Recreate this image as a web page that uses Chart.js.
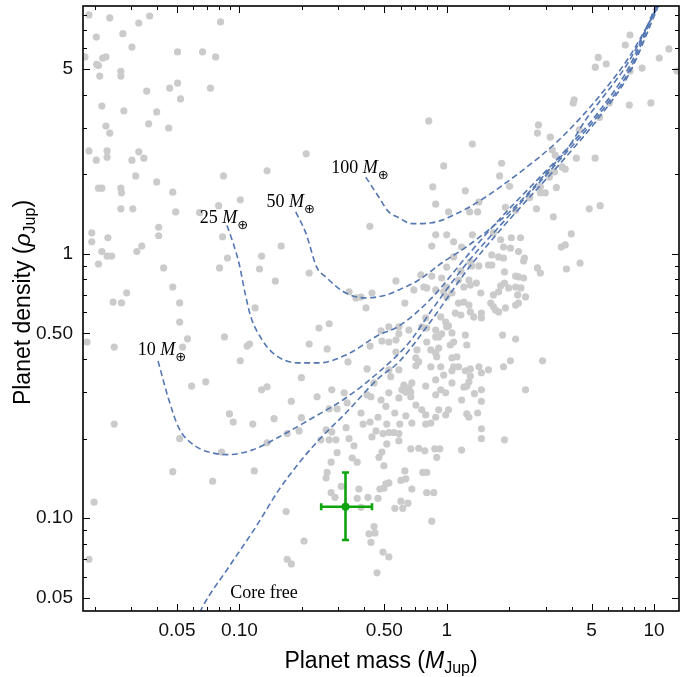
<!DOCTYPE html>
<html>
<head>
<meta charset="utf-8">
<script src="https://cdn.jsdelivr.net/npm/chart.js@4.4.1/dist/chart.umd.min.js"></script>
<style>
  html, body { margin: 0; padding: 0; background: #fff; }
</style>
</head>
<body>
<canvas id="chart" width="683" height="677"></canvas>
<script>
// known planets, [mass (M_Jup), density (rho_Jup)]
const planetsLowMass = [
  [0.0188,8.0],[0.0237,7.8],[0.0369,7.93],[0.0327,7.46],[0.0811,7.53],[0.0204,6.6],[0.0274,6.8],[0.0303,6.05],
  [0.018,5.55],[0.0219,5.5],[0.0227,5.55],[0.0205,5.2],[0.0209,5.15],[0.0503,5.8],[0.0664,5.8],[0.0768,5.55],
  [0.0268,4.9],[0.0268,4.7],[0.0212,4.7],[0.0357,4.12],[0.0461,4.23],[0.0503,4.42],[0.0725,4.23],[0.052,3.85],
  [0.0217,3.62],[0.0277,3.47],[0.0399,3.44],[0.0227,3.04],[0.0237,2.86],[0.0365,3.1],[0.0456,2.99],[0.0188,2.45],
  [0.0204,2.26],[0.023,2.45],[0.023,2.32],[0.0303,2.26],[0.0327,2.43],[0.0346,2.3],[0.0316,1.97],[0.0399,1.87],
  [0.0838,1.97],[0.136,2.06],[0.21,2.39],[0.0209,1.77],[0.0217,1.77],[0.0268,1.77],[0.027,1.7],[0.0477,1.71],
  [0.101,1.6],[0.0794,1.52],[0.0268,1.48],[0.0306,1.48],[0.0493,1.44],[0.0643,1.43],[0.0408,1.26],[0.0408,1.17],
  [0.0194,1.2],[0.0194,1.11],[0.0232,1.15],[0.0829,1.16],[0.159,1.07],[0.0217,1.02],[0.023,0.98],[0.0242,0.98],
  [0.032,1.02],[0.0338,1.07],[0.0209,0.915],[0.0876,0.964],[0.128,0.98],[0.0431,0.884],[0.0802,0.884],[0.125,0.876],
  [0.217,0.846],[0.149,0.789],[0.0477,0.749],[0.0286,0.712],[0.426,1.27],[0.436,0.711],[0.338,0.718]
];
const planetsLowDensity = [
  [0.0246,0.657],[0.027,0.652],[0.0515,0.652],[0.0515,0.552],[0.0562,0.477],[0.0184,0.464],[0.0249,0.444],[0.0532,0.444],
  [0.0847,0.485],[0.109,0.448],[0.112,0.456],[0.101,0.394],[0.119,0.624],[0.217,0.456],[0.242,0.524],[0.271,0.544],
  [0.265,0.437],[0.334,0.39],[0.0688,0.328],[0.0588,0.316],[0.128,0.306],[0.136,0.314],[0.199,0.34],[0.237,0.288],
  [0.279,0.306],[0.178,0.277],[0.0895,0.248],[0.0934,0.231],[0.116,0.227],[0.147,0.238],[0.199,0.24],[0.194,0.214],
  [0.17,0.209],[0.0249,0.227],[0.0515,0.2],[0.082,0.178],[0.136,0.193],[0.247,0.198],[0.271,0.198],[0.292,0.198],
  [0.262,0.216],[0.296,0.177],[0.327,0.22],[0.338,0.2],[0.357,0.188],[0.35,0.169],[0.37,0.163],[0.436,0.203],
  [0.0477,0.15],[0.0743,0.138],[0.118,0.151],[0.265,0.149],[0.262,0.142],[0.277,0.125],[0.289,0.12],[0.377,0.129],
  [0.417,0.12],[0.0199,0.115],[0.386,0.11],[0.168,0.106],[0.446,0.093],[0.422,0.0873],[0.431,0.081],[0.205,0.082],
  [0.17,0.07],[0.178,0.0672],[0.0188,0.07],[0.461,0.0622],
  [0.279,0.212],[0.395,0.227],[0.427,0.231],[0.514,0.227],[0.594,0.227],[0.679,0.229],[0.792,0.227],[0.838,0.229],
  [0.456,0.214],[0.493,0.209],[0.526,0.211],[0.556,0.211],[0.588,0.209],[0.514,0.191],[0.588,0.196],[0.671,0.183],
  [0.733,0.184],[0.784,0.18],[0.876,0.183],[0.926,0.183],[0.895,0.17],[0.487,0.178],[0.471,0.17],[0.277,0.163],
  [0.498,0.158],[0.31,0.132],[0.628,0.151],[0.635,0.141],[0.601,0.139],[0.767,0.149],[0.801,0.149],[0.509,0.135],
  [0.526,0.136],[0.498,0.13],[0.476,0.129],[0.679,0.129],[0.37,0.119],[0.466,0.119],[0.601,0.116],[0.65,0.114],
  [0.562,0.109],[0.614,0.109],[0.801,0.125],[0.866,0.125],[0.847,0.0975],[0.451,0.088],[0.493,0.0745],[0.526,0.0714]
];
const planetsCluster = [
  [0.569,0.79],[0.365,0.681],[0.386,0.686],[0.408,0.625],[0.628,0.651],[0.694,0.73],[0.775,0.749],[0.801,0.743],
  [0.885,0.73],[0.427,0.448],[0.482,0.511],[0.526,0.529],[0.588,0.529],[0.487,0.468],[0.526,0.464],[0.588,0.498],
  [0.569,0.472],[0.657,0.515],[0.792,0.573],[0.758,0.529],[0.801,0.524],[0.885,0.515],[0.989,0.552],[1.0,0.529],
  [0.885,0.485],[0.915,0.485],[0.946,0.498],[0.801,0.464],[0.569,0.425],[0.719,0.433],[0.838,0.433],[0.915,0.44],
  [0.71,0.404],[0.733,0.39],[0.885,0.422],[0.895,0.408],[0.526,0.364],[0.537,0.343],[0.588,0.364],[0.413,0.367],
  [0.621,0.319],[0.657,0.311],[0.635,0.3],[0.679,0.325],[0.608,0.306],[0.671,0.3],[0.71,0.377],[0.838,0.374],
  [0.936,0.374],[0.885,0.334],[0.967,0.348],[0.792,0.316],[0.989,0.298],[0.32,0.298],[0.446,0.325],[0.413,0.293],
  [0.431,0.288],[0.526,0.298],[0.588,0.285],[0.671,0.288],[0.71,0.268],[0.885,0.293],[0.758,0.257],[0.482,0.28],
  [0.509,0.265],[0.331,0.273],[0.296,0.259],[0.271,0.259],[0.386,0.25],[0.466,0.241],[0.562,0.25],[0.635,0.244],
  [0.792,0.246],[0.885,0.241],[0.989,0.246],
  [1.1,0.597],[1.17,0.587],[1.3,0.603],[1.35,0.577],[1.47,0.597],[1.47,0.572],[1.72,0.613],[1.78,0.603],
  [1.02,0.534],[1.06,0.502],[1.08,0.464],[1.04,0.452],[1.23,0.493],[1.25,0.452],[1.86,0.493],[2.15,0.476],
  [1.06,0.404],[1.12,0.408],[1.08,0.374],[1.14,0.374],[1.23,0.361],[1.3,0.367],[1.06,0.361],[1.43,0.374],
  [1.47,0.355],[1.59,0.364],[1.88,0.374],[2.03,0.394],[2.9,0.394],[1.3,0.345],[1.28,0.328],[1.06,0.325],
  [1.21,0.313],[1.25,0.316],[0.936,0.306],[1.47,0.306],[1.36,0.296],[2.4,0.306],[1.18,0.28],[1.47,0.277],
  [1.02,0.257],[0.915,0.257],[1.25,0.248],[1.28,0.241],[1.41,0.25],[1.47,0.218],[1.47,0.2],[1.9,0.198],[1.18,0.181]
];
const planetsHighMass = [
  [7.66,6.72],[7.27,6.16],[5.38,5.53],[5.21,5.08],[5.88,5.22],[7.66,4.91],[8.76,5.04],[10.6,5.5],
  [11.8,5.95],[12.9,4.91],[4.12,3.82],[4.08,3.72],[6.08,3.72],[7.6,3.65],[9.66,3.72],[5.46,3.28],
  [4.36,2.94],[2.77,3.07],[2.74,2.86],[0.819,3.18],[1.33,2.6],[3.16,2.76],[1.84,2.2],[0.967,2.15],
  [1.8,1.97],[3.23,2.47],[3.34,2.36],[3.09,2.02],[3.31,2.04],[3.13,1.95],[4.22,2.3],[5.2,2.3],
  [3.6,2.13],[3.73,2.09],[0.857,1.79],[1.23,1.73],[2.01,1.8],[2.83,1.79],[2.83,1.7],[3.38,1.78],
  [2.99,1.7],[2.51,1.63],[0.885,1.54],[1.43,1.57],[1.02,1.44],[1.29,1.44],[1.41,1.44],[1.92,1.5],
  [2.15,1.46],[2.71,1.48],[3.27,1.38],[4.87,1.48],[5.5,1.52],[0.885,1.18],[1.0,1.18],[0.847,1.07],
  [1.08,1.11],[1.33,1.18],[1.18,1.06],[1.68,1.2],[1.82,1.13],[2.05,1.15],[2.27,1.15],[1.88,1.06],
  [2.03,1.05],[1.78,0.973],[1.88,0.964],[3.57,1.06],[3.73,1.08],[3.99,1.19],[1.08,0.973],[2.37,0.964],
  [2.35,0.939],[1.32,0.9],[1.43,0.9],[1.59,0.907],[1.65,0.907],[1.9,0.854],[2.15,0.824],[2.22,0.818],
  [2.35,0.81],[4.4,0.923],[3.78,0.876],[2.74,0.884],[2.83,0.846],[1.17,0.86],[1.28,0.796],[1.0,0.891],
  [0.946,0.81],[0.751,0.832],[1.82,0.756],[1.9,0.775],[2.15,0.749],[2.28,0.743],[2.2,0.699],[2.4,0.687],
  [1.39,0.775],[0.847,0.824],[1.3,0.931],[1.14,0.796],[1.3,0.762],[1.21,0.749],[1.06,0.711],[0.967,0.718],
  [1.0,0.687],[1.14,0.651],[1.21,0.657],[1.28,0.64],[1.63,0.651],[1.68,0.63],[1.92,0.624],[0.936,0.577],
  [1.46,0.711],[1.78,0.718],[1.68,0.699],[1.99,0.743],[2.15,0.64],[2.22,0.651],[2.22,1.02],[1.65,0.99],[1.0,0.749]
];

// interior model tracks (core mass), [mass, density]
const coreFree = [[0.0645,0.044],[0.066,0.0458],[0.089,0.0655],[0.12,0.0927],[0.155,0.128],[0.194,0.162],[0.242,0.198],
  [0.326,0.25],[0.47,0.339],[0.588,0.39],[0.847,0.562],[1.235,0.854],[1.78,1.21],[3.75,2.32],[5.4,3.26],[7.53,4.74],[10.5,8.65]];
const core10 = [[0.0405,0.393],[0.0457,0.28],[0.0511,0.219],[0.0604,0.189],[0.0713,0.178],[0.0871,0.174],[0.115,0.181],
  [0.155,0.203],[0.224,0.239],[0.326,0.285],[0.47,0.357],[0.656,0.46],[0.847,0.613],[1.23,0.907],[1.78,1.26],
  [3.75,2.4],[5.4,3.35],[7.53,4.86],[10.3,8.65]];
const core25 = [[0.0871,1.28],[0.0921,1.13],[0.0995,0.923],[0.107,0.698],[0.114,0.572],[0.127,0.481],[0.143,0.426],
  [0.189,0.387],[0.242,0.387],[0.326,0.414],[0.47,0.493],[0.588,0.533],[0.847,0.681],[1.23,0.964],[1.78,1.34],
  [3.75,2.47],[5.4,3.44],[7.53,5.04],[10.2,8.65]];
const core50 = [[0.187,1.44],[0.209,1.2],[0.236,0.891],[0.261,0.817],[0.326,0.711],[0.407,0.681],[0.508,0.698],
  [0.587,0.73],[0.733,0.796],[0.946,0.923],[1.24,1.06],[1.59,1.23],[1.99,1.43],[2.48,1.7],[3.1,2.07],[3.87,2.53],
  [4.68,3.21],[5.4,3.72],[7.53,5.31],[10.4,8.65]];
const core100 = [[0.407,1.95],[0.47,1.64],[0.525,1.44],[0.587,1.37],[0.678,1.3],[0.847,1.31],[1.14,1.43],[1.47,1.6],
  [1.92,1.85],[2.57,2.2],[3.35,2.62],[4.33,3.21],[5.4,3.91],[7.53,5.5],[10.5,8.65]];

// the highlighted planet with its error bars
const targetMass = [0.325, 0.248, 0.436];      // value, low, high
const targetDensity = [0.1106, 0.0828, 0.149];

const xTickValues = [0.05, 0.1, 0.5, 1, 5, 10];
const xTickLabels = ['0.05', '0.10', '0.50', '1', '5', '10'];
const xMinor = [0.02,0.03,0.04,0.06,0.07,0.08,0.09,0.2,0.3,0.4,0.6,0.7,0.8,0.9,2,3,4,6,7,8,9];
const yTickValues = [0.05, 0.1, 0.5, 1, 5];
const yTickLabels = ['0.05', '0.10', '0.50', '1', '5'];
const yMinor = [0.06,0.07,0.08,0.09,0.2,0.3,0.4,0.6,0.7,0.8,0.9,2,3,4,6,7,8];

// curve labels: text and the data point where the text starts
const curveLabels = [
  { num: '10 ', m: 0.0323, rho: 0.415 },
  { num: '25 ', m: 0.0643, rho: 1.31 },
  { num: '50 ', m: 0.135, rho: 1.50 },
  { num: '100 ', m: 0.277, rho: 2.02 }
];
const coreFreeLabel = { text: 'Core free', m: 0.0904, rho: 0.0499 };

const SERIF = '"Liberation Serif", "Times New Roman", serif';
const SANS = '"Liberation Sans", Arial, sans-serif';
const LINE_BLUE = '#5477b3';
const GREEN = '#0ea40e';

const toXY = (pts) => pts.map((p) => ({ x: p[0], y: p[1] }));

function drawParts(ctx, parts, x, y, align) {
  let total = 0;
  parts.forEach((p) => {
    ctx.font = p.font;
    p.w = ctx.measureText(p.text).width;
    total += p.w;
  });
  let cx = align === 'center' ? x - total / 2 : x;
  parts.forEach((p) => {
    ctx.font = p.font;
    ctx.fillText(p.text, cx, y + (p.dy || 0));
    cx += p.w;
  });
}

const decorations = {
  id: 'decorations',
  afterDatasetsDraw(chart) {
    const { ctx, scales: { x, y } } = chart;
    ctx.save();
    // error bars
    const px = x.getPixelForValue(targetMass[0]);
    const py = y.getPixelForValue(targetDensity[0]);
    const xl = x.getPixelForValue(targetMass[1]);
    const xh = x.getPixelForValue(targetMass[2]);
    const yl = y.getPixelForValue(targetDensity[1]);
    const yh = y.getPixelForValue(targetDensity[2]);
    ctx.strokeStyle = GREEN;
    ctx.lineWidth = 2.6;
    ctx.beginPath();
    ctx.moveTo(xl, py); ctx.lineTo(xh, py);
    ctx.moveTo(px, yl); ctx.lineTo(px, yh);
    ctx.moveTo(xl, py - 3.5); ctx.lineTo(xl, py + 3.5);
    ctx.moveTo(xh, py - 3.5); ctx.lineTo(xh, py + 3.5);
    ctx.moveTo(px - 3.5, yl); ctx.lineTo(px + 3.5, yl);
    ctx.moveTo(px - 3.5, yh); ctx.lineTo(px + 3.5, yh);
    ctx.stroke();

    // curve labels
    ctx.fillStyle = '#000';
    ctx.textAlign = 'left';
    ctx.textBaseline = 'alphabetic';
    curveLabels.forEach((l) => {
      drawParts(ctx, [
        { text: l.num, font: '18px ' + SERIF },
        { text: 'M', font: 'italic 18px ' + SERIF },
        { text: '\u2295', font: '13px "DejaVu Sans"', dy: 6 }
      ], x.getPixelForValue(l.m), y.getPixelForValue(l.rho), 'left');
    });
    ctx.font = '18px ' + SERIF;
    ctx.fillText(coreFreeLabel.text, x.getPixelForValue(coreFreeLabel.m), y.getPixelForValue(coreFreeLabel.rho));
    ctx.restore();
  },
  afterDraw(chart) {
    const { ctx, chartArea: a, scales: { x, y } } = chart;
    ctx.save();
    ctx.strokeStyle = '#000';
    ctx.lineWidth = 1;
    ctx.beginPath();
    const tickX = (v, len) => {
      const p = Math.round(x.getPixelForValue(v)) + 0.5;
      ctx.moveTo(p, a.bottom); ctx.lineTo(p, a.bottom - len);
      ctx.moveTo(p, a.top); ctx.lineTo(p, a.top + len);
    };
    const tickY = (v, len) => {
      const p = Math.round(y.getPixelForValue(v)) + 0.5;
      ctx.moveTo(a.left, p); ctx.lineTo(a.left + len, p);
      ctx.moveTo(a.right, p); ctx.lineTo(a.right - len, p);
    };
    xTickValues.forEach((v) => tickX(v, 7));
    xMinor.forEach((v) => tickX(v, 4));
    yTickValues.forEach((v) => tickY(v, 7));
    yMinor.forEach((v) => tickY(v, 4));
    ctx.stroke();

    ctx.lineWidth = 1.6;
    ctx.strokeRect(a.left, a.top, a.right - a.left, a.bottom - a.top);

    // axis titles
    ctx.fillStyle = '#000';
    ctx.textBaseline = 'alphabetic';
    drawParts(ctx, [
      { text: 'Planet mass (', font: '23px ' + SANS },
      { text: 'M', font: 'italic 23px ' + SANS },
      { text: 'Jup', font: '16px ' + SANS, dy: 5 },
      { text: ')', font: '23px ' + SANS }
    ], (a.left + a.right) / 2, 668, 'center');

    ctx.translate(30, (a.top + a.bottom) / 2 - 6);
    ctx.rotate(-Math.PI / 2);
    drawParts(ctx, [
      { text: 'Planet density (', font: '23px ' + SANS },
      { text: '\u03c1', font: 'italic 23px ' + SANS },
      { text: 'Jup', font: '16px ' + SANS, dy: 5 },
      { text: ')', font: '23px ' + SANS }
    ], 0, 0, 'center');
    ctx.restore();
  }
};

const curveStyle = {
  showLine: true,
  pointRadius: 0,
  borderColor: LINE_BLUE,
  borderWidth: 1.6,
  borderDash: [6, 3.5],
  cubicInterpolationMode: 'monotone',
  fill: false,
  order: 5
};

new Chart(document.getElementById('chart'), {
  type: 'scatter',
  data: {
    datasets: [
      {
        data: toXY([].concat(planetsLowMass, planetsLowDensity, planetsCluster, planetsHighMass)),
        pointRadius: 3.6,
        pointBackgroundColor: '#cbcbcb',
        pointBorderColor: '#cbcbcb',
        pointBorderWidth: 0,
        order: 10
      },
      Object.assign({ data: toXY(coreFree) }, curveStyle),
      Object.assign({ data: toXY(core10) }, curveStyle),
      Object.assign({ data: toXY(core25) }, curveStyle),
      Object.assign({ data: toXY(core50) }, curveStyle),
      Object.assign({ data: toXY(core100) }, curveStyle),
      {
        data: [{ x: targetMass[0], y: targetDensity[0] }],
        pointRadius: 4,
        pointBackgroundColor: GREEN,
        pointBorderColor: GREEN,
        pointBorderWidth: 0,
        order: 1
      }
    ]
  },
  options: {
    responsive: false,
    animation: false,
    layout: { padding: { top: 6, right: 2, left: 0, bottom: 0 } },
    plugins: { legend: { display: false }, tooltip: { enabled: false } },
    scales: {
      x: {
        type: 'logarithmic',
        min: 0.0176,
        max: 13.2,
        grid: { display: false, drawTicks: false },
        border: { display: false },
        afterBuildTicks: (s) => { s.ticks = xTickValues.map((v) => ({ value: v })); },
        afterFit: (s) => { s.height = 66; s.paddingLeft = 0; s.paddingRight = 0; },
        ticks: {
          autoSkip: false,
          maxRotation: 0,
          padding: 8,
          color: '#111',
          font: { family: SANS, size: 19 },
          callback: (v, i) => xTickLabels[i]
        }
      },
      y: {
        type: 'logarithmic',
        min: 0.0446,
        max: 8.65,
        grid: { display: false, drawTicks: false },
        border: { display: false },
        afterBuildTicks: (s) => { s.ticks = yTickValues.map((v) => ({ value: v })); },
        afterFit: (s) => { s.width = 83; s.paddingTop = 0; s.paddingBottom = 0; },
        ticks: {
          autoSkip: false,
          padding: 10,
          color: '#111',
          font: { family: SANS, size: 19 },
          callback: (v, i) => yTickLabels[i]
        }
      }
    }
  },
  plugins: [decorations]
});
</script>
</body>
</html>
